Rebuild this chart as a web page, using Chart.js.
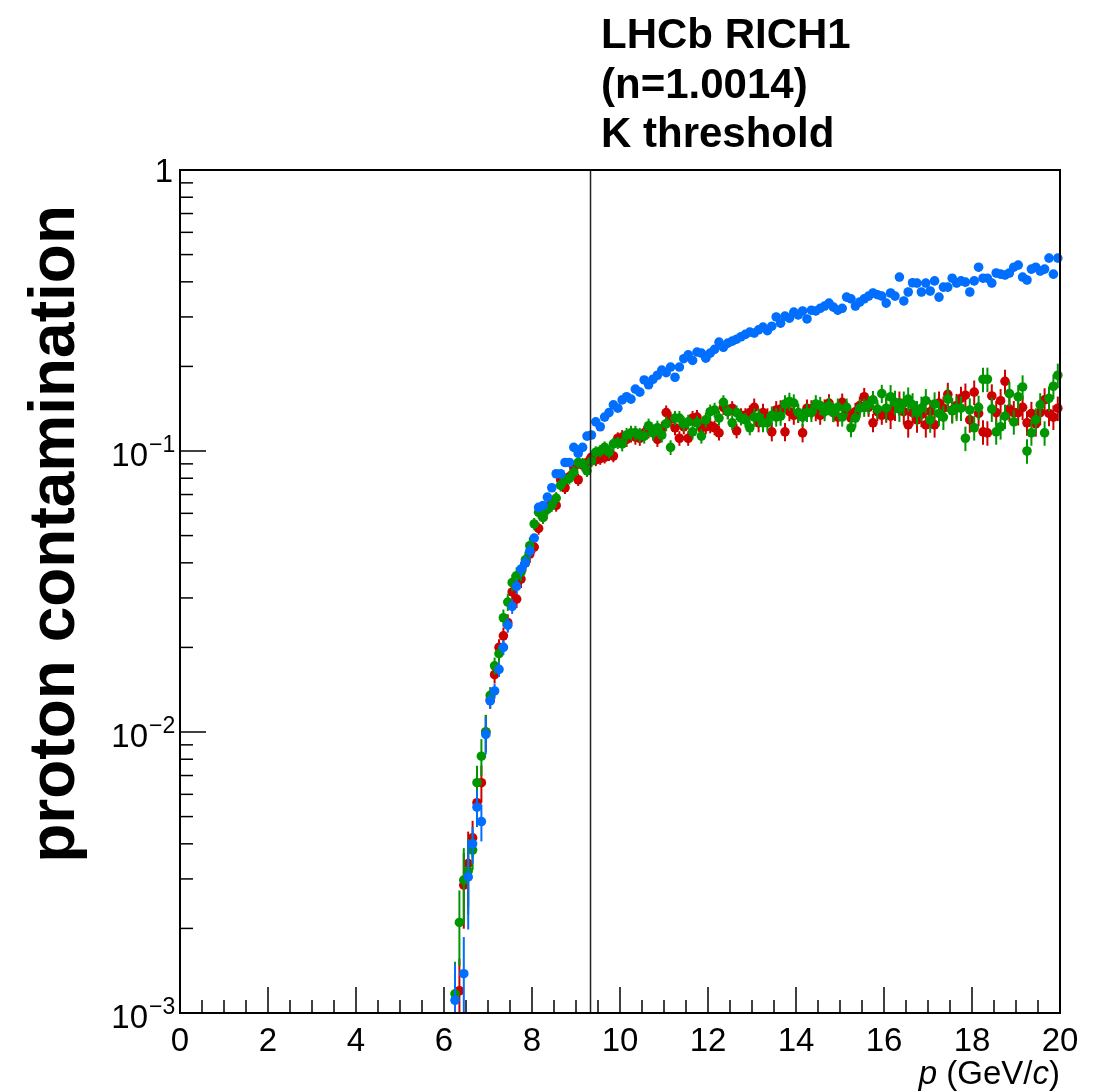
<!DOCTYPE html>
<html>
<head>
<meta charset="utf-8">
<script src="https://cdn.jsdelivr.net/npm/chart.js@4.4.1/dist/chart.umd.min.js"></script>
<style>
  html, body { margin: 0; padding: 0; background: #fff; }
  #wrap { width: 1093px; height: 1092px; }
</style>
</head>
<body>
<div id="wrap"><canvas id="chart" width="1093" height="1092"></canvas></div>
<script>
// bin centres (GeV/c), 0.1 GeV wide bins
const momentum = [
  6.25, 6.35, 6.45, 6.55, 6.65, 6.75, 6.85, 6.95, 7.05, 7.15,
  7.25, 7.35, 7.45, 7.55, 7.65, 7.75, 7.85, 7.95, 8.05, 8.15,
  8.25, 8.35, 8.45, 8.55, 8.65, 8.75, 8.85, 8.95, 9.05, 9.15,
  9.25, 9.35, 9.45, 9.55, 9.65, 9.75, 9.85, 9.95, 10.05, 10.15,
  10.25, 10.35, 10.45, 10.55, 10.65, 10.75, 10.85, 10.95, 11.05, 11.15,
  11.25, 11.35, 11.45, 11.55, 11.65, 11.75, 11.85, 11.95, 12.05, 12.15,
  12.25, 12.35, 12.45, 12.55, 12.65, 12.75, 12.85, 12.95, 13.05, 13.15,
  13.25, 13.35, 13.45, 13.55, 13.65, 13.75, 13.85, 13.95, 14.05, 14.15,
  14.25, 14.35, 14.45, 14.55, 14.65, 14.75, 14.85, 14.95, 15.05, 15.15,
  15.25, 15.35, 15.45, 15.55, 15.65, 15.75, 15.85, 15.95, 16.05, 16.15,
  16.25, 16.35, 16.45, 16.55, 16.65, 16.75, 16.85, 16.95, 17.05, 17.15,
  17.25, 17.35, 17.45, 17.55, 17.65, 17.75, 17.85, 17.95, 18.05, 18.15,
  18.25, 18.35, 18.45, 18.55, 18.65, 18.75, 18.85, 18.95, 19.05, 19.15,
  19.25, 19.35, 19.45, 19.55, 19.65, 19.75, 19.85, 19.95
]

const blueValues = [
  0.00111, null, 0.00138, 0.00305, 0.0040, 0.0054, 0.0048, 0.0098, 0.0129, 0.0140,
  0.0167, 0.0200, 0.0240, 0.0280, 0.0330, 0.0380, 0.0400, 0.0440, 0.0490, 0.0630,
  0.0640, 0.0685, 0.0740, 0.0830, 0.0830, 0.0910, 0.0910, 0.1030, 0.0980, 0.1030,
  0.113, 0.114, 0.127, 0.122, 0.132, 0.137, 0.146, 0.142, 0.152, 0.156,
  0.153, 0.166, 0.162, 0.179, 0.172, 0.180, 0.186, 0.194, 0.190, 0.199,
  0.183, 0.199, 0.213, 0.220, 0.210, 0.225, 0.223, 0.214, 0.223, 0.230,
  0.244, 0.234, 0.242, 0.246, 0.250, 0.255, 0.260, 0.265, 0.263, 0.270,
  0.276, 0.268, 0.278, 0.300, 0.285, 0.302, 0.297, 0.312, 0.305, 0.315,
  0.295, 0.317, 0.315, 0.322, 0.328, 0.336, 0.325, 0.317, 0.322, 0.353,
  0.348, 0.328, 0.339, 0.348, 0.356, 0.365, 0.360, 0.356, 0.336, 0.365,
  0.356, 0.416, 0.342, 0.368, 0.397, 0.396, 0.368, 0.396, 0.371, 0.403,
  0.353, 0.383, 0.383, 0.412, 0.396, 0.403, 0.399, 0.368, 0.403, 0.451,
  0.412, 0.412, 0.396, 0.430, 0.426, 0.423, 0.430, 0.451, 0.459, 0.416,
  0.406, 0.444, 0.451, 0.437, 0.444, 0.486, 0.426, 0.486
]

const redValues = [
  null, 0.00120, 0.00285, 0.0034, 0.0042, 0.0056, 0.0066, 0.0100, 0.0130, 0.0160,
  0.0200, 0.0220, 0.0245, 0.0315, 0.0297, 0.0350, 0.0400, 0.0430, 0.0455, 0.0530,
  0.0580, 0.0630, 0.0660, 0.0640, 0.0790, 0.0740, 0.0810, 0.0870, 0.0790, 0.0890,
  0.091, 0.095, 0.093, 0.094, 0.095, 0.097, 0.096, 0.111, 0.112, 0.110,
  0.114, 0.112, 0.111, 0.116, 0.118, 0.117, 0.110, 0.120, 0.137, 0.130,
  0.121, 0.111, 0.122, 0.111, 0.131, 0.132, 0.121, 0.122, 0.123, 0.121,
  0.116, 0.143, 0.138, 0.142, 0.118, 0.134, 0.134, 0.137, 0.143, 0.126,
  0.137, 0.132, 0.117, 0.140, 0.141, 0.117, 0.138, 0.134, 0.136, 0.116,
  0.142, 0.141, 0.138, 0.134, 0.142, 0.148, 0.137, 0.132, 0.149, 0.140,
  0.131, 0.138, 0.145, 0.156, 0.143, 0.126, 0.138, 0.134, 0.140, 0.133,
  0.142, 0.148, 0.138, 0.124, 0.137, 0.129, 0.135, 0.124, 0.138, 0.124,
  0.148, 0.142, 0.159, 0.140, 0.145, 0.154, 0.158, 0.129, 0.162, 0.136,
  0.117, 0.116, 0.157, 0.137, 0.151, 0.177, 0.141, 0.137, 0.137, 0.143,
  0.126, 0.136, 0.125, 0.137, 0.152, 0.136, 0.132, 0.142
]

const greenValues = [
  0.00117, 0.0021, 0.00297, 0.0032, 0.0038, 0.0066, 0.0082, 0.0100, 0.0135, 0.0172,
  0.0190, 0.0255, 0.0290, 0.0340, 0.0360, 0.0370, 0.0410, 0.0460, 0.0550, 0.0605,
  0.0580, 0.0620, 0.0640, 0.0680, 0.0755, 0.0790, 0.0800, 0.0840, 0.0910, 0.0900,
  0.085, 0.092, 0.099, 0.100, 0.103, 0.099, 0.106, 0.107, 0.106, 0.114,
  0.116, 0.116, 0.114, 0.113, 0.123, 0.116, 0.121, 0.114, 0.125, 0.103,
  0.131, 0.131, 0.125, 0.127, 0.117, 0.126, 0.113, 0.129, 0.138, 0.140,
  0.131, 0.149, 0.138, 0.126, 0.137, 0.131, 0.129, 0.121, 0.132, 0.132,
  0.126, 0.126, 0.134, 0.132, 0.133, 0.147, 0.150, 0.148, 0.137, 0.132,
  0.137, 0.137, 0.147, 0.145, 0.138, 0.145, 0.137, 0.143, 0.132, 0.143,
  0.121, 0.131, 0.142, 0.143, 0.146, 0.152, 0.141, 0.160, 0.142, 0.156,
  0.149, 0.141, 0.148, 0.153, 0.146, 0.137, 0.142, 0.151, 0.129, 0.147,
  0.136, 0.132, 0.153, 0.139, 0.142, 0.142, 0.111, 0.140, 0.121, 0.143,
  0.180, 0.180, 0.141, 0.117, 0.122, 0.133, 0.160, 0.127, 0.156, 0.169,
  0.100, 0.116, 0.129, 0.146, 0.116, 0.154, 0.170, 0.186
]

// relative error bar size, as [up to p, fraction]
const blueRelErr = [[6.6, 0.35], [7.0, 0.15], [8.0, 0.06], [12.0, 0.03], [20.0, 0.035]]
const redRelErr = [[6.6, 0.3], [7.0, 0.15], [8.0, 0.07], [10.0, 0.05], [13.0, 0.06], [16.0, 0.075], [20.0, 0.1]]
const greenRelErr = [[6.6, 0.3], [7.0, 0.15], [8.0, 0.07], [10.0, 0.05], [13.0, 0.06], [16.0, 0.075], [20.0, 0.1]]

const xTickLabels = [0, 2, 4, 6, 8, 10, 12, 14, 16, 18, 20]
const yTickExponents = [0, -1, -2, -3]
const kThreshold = 9.33
const titleLines = ['LHCb RICH1', '(n=1.0014)', 'K threshold']


function toPoints(values) {
    const pts = []
    values.forEach((v, i) => {
        if (v !== null) pts.push({x: momentum[i], y: v})
    })
    return pts
}

function relErrFor(table, p) {
    for (const [pMax, e] of table) {
        if (p <= pMax) return e
    }
    return table[table.length - 1][1]
}

const errorTables = [blueRelErr, greenRelErr, redRelErr]

const FONT = '"Liberation Sans", Arial, sans-serif'


const errorBars = {
    id: 'errorBars',
    beforeDatasetDraw(chart, args) {
        const {ctx, chartArea, scales} = chart
        const ds = chart.data.datasets[args.index]
        const table = errorTables[args.index]
        ctx.save()
        ctx.beginPath()
        ctx.rect(chartArea.left, chartArea.top, chartArea.width, chartArea.height)
        ctx.clip()
        ctx.strokeStyle = ds.backgroundColor
        ctx.lineWidth = 2
        args.meta.data.forEach((el, i) => {
            const d = ds.data[i]
            const e = relErrFor(table, d.x) * d.y
            const yTop = scales.y.getPixelForValue(d.y + e)
            const yBot = scales.y.getPixelForValue(Math.max(d.y - e, 1e-5))
            ctx.beginPath()
            ctx.moveTo(el.x, yTop)
            ctx.lineTo(el.x, yBot)
            ctx.stroke()
        })
        ctx.restore()
    }
}

const rootAxes = {
    id: 'rootAxes',
    beforeDatasetsDraw(chart) {
        const {ctx, chartArea: a, scales} = chart
        ctx.save()
        ctx.strokeStyle = '#000'
        ctx.lineWidth = 1.5
        // x ticks, inside the frame
        for (let v = 0; v <= 20.0001; v += 0.5) {
            const px = scales.x.getPixelForValue(v)
            const len = Math.abs(v % 2) < 1e-6 ? 26 : 13
            ctx.beginPath()
            ctx.moveTo(px, a.bottom)
            ctx.lineTo(px, a.bottom - len)
            ctx.stroke()
        }
        // y ticks (log)
        for (let dec = -3; dec < 0; dec++) {
            for (let m = 1; m < 10; m++) {
                const v = m * Math.pow(10, dec)
                const py = scales.y.getPixelForValue(v)
                const len = m === 1 ? 26 : 13
                ctx.beginPath()
                ctx.moveTo(a.left, py)
                ctx.lineTo(a.left + len, py)
                ctx.stroke()
            }
        }
        ctx.restore()
    },
    afterDatasetsDraw(chart) {
        const {ctx, chartArea: a, scales} = chart
        ctx.save()

        // threshold line
        const kx = scales.x.getPixelForValue(kThreshold)
        ctx.strokeStyle = '#222'
        ctx.lineWidth = 1.5
        ctx.beginPath()
        ctx.moveTo(kx, a.top)
        ctx.lineTo(kx, a.bottom)
        ctx.stroke()

        // frame
        ctx.strokeStyle = '#000'
        ctx.lineWidth = 2
        ctx.strokeRect(a.left, a.top, a.width, a.height)

        ctx.fillStyle = '#000'
        // x tick labels
        ctx.font = '33px ' + FONT
        ctx.textAlign = 'center'
        ctx.textBaseline = 'alphabetic'
        xTickLabels.forEach(v => {
            ctx.fillText(String(v), scales.x.getPixelForValue(v), a.bottom + 38)
        })

        // y tick labels
        ctx.textBaseline = 'alphabetic'
        yTickExponents.forEach(ex => {
            const py = scales.y.getPixelForValue(Math.pow(10, ex))
            if (ex === 0) {
                ctx.font = '33px ' + FONT
                ctx.textAlign = 'right'
                ctx.fillText('1', a.left - 7, py + 12)
            } else {
                ctx.font = '33px ' + FONT
                ctx.textAlign = 'right'
                ctx.fillText('10', a.left - 32, py + 15)
                ctx.font = '23px ' + FONT
                ctx.textAlign = 'left'
                ctx.fillText('\u2212' + Math.abs(ex), a.left - 31, py + 1)
            }
        })

        // x axis title: p (GeV/c)
        const parts = [
            ['p', 'italic 33px ' + FONT],
            [' (GeV/', '33px ' + FONT],
            ['c', 'italic 33px ' + FONT],
            [')', '33px ' + FONT],
        ]
        let total = 0
        parts.forEach(([t, f]) => { ctx.font = f; total += ctx.measureText(t).width })
        let xx = a.right - total
        ctx.textAlign = 'left'
        parts.forEach(([t, f]) => {
            ctx.font = f
            ctx.fillText(t, xx, 1084)
            xx += ctx.measureText(t).width
        })

        // y axis title
        ctx.save()
        ctx.translate(74, 205)
        ctx.rotate(-Math.PI / 2)
        ctx.font = 'bold 64px ' + FONT
        ctx.textAlign = 'right'
        ctx.fillText('proton contamination', 0, 0)
        ctx.restore()

        // label text above the frame
        ctx.font = 'bold 42px ' + FONT
        ctx.textAlign = 'left'
        titleLines.forEach((t, i) => {
            ctx.fillText(t, 601, 48 + i * 49.5)
        })

        ctx.restore()
    }
}


const pointStyle = (color) => ({
    backgroundColor: color,
    borderWidth: 0,
    pointRadius: 4.8,
    pointHoverRadius: 4.8,
    showLine: false,
})

new Chart(document.getElementById('chart'), {
    type: 'scatter',
    data: {
        datasets: [
            {label: 'blue', data: toPoints(blueValues), ...pointStyle('rgb(0,110,255)')},
            {label: 'green', data: toPoints(greenValues), ...pointStyle('rgb(0,150,0)')},
            {label: 'red', data: toPoints(redValues), ...pointStyle('rgb(205,0,0)')},
        ]
    },
    options: {
        responsive: false,
        animation: false,
        clip: false,
        layout: {padding: {left: 180, right: 33, top: 170, bottom: 79}},
        plugins: {legend: {display: false}, tooltip: {enabled: false}},
        scales: {
            x: {type: 'linear', min: 0, max: 20, display: false},
            y: {type: 'logarithmic', min: 0.001, max: 1, display: false},
        }
    },
    plugins: [errorBars, rootAxes]
})
</script>
</body>
</html>
